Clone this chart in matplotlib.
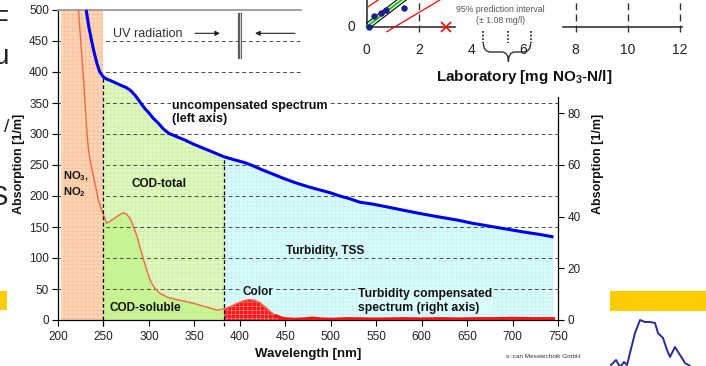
import numpy as np
import matplotlib
matplotlib.use('Agg')
import matplotlib.pyplot as plt
from matplotlib.path import Path
from matplotlib.patches import PathPatch, Rectangle

plt.rcParams['font.family'] = ['Liberation Sans', 'DejaVu Sans']
plt.rcParams['mathtext.fontset'] = 'custom'
plt.rcParams['mathtext.rm'] = 'Liberation Sans'
plt.rcParams['mathtext.bf'] = 'Liberation Sans:bold'
plt.rcParams['hatch.linewidth'] = 0.35

# ---------------- main chart data ----------------
blue_wl = [229, 231, 234, 237, 240, 243, 246, 250, 253, 258, 264, 270, 275, 280, 285, 290,
           295, 300, 305, 310, 316, 322, 330, 340, 350, 360, 370, 383, 395, 405, 414, 425,
           437, 447, 460, 475, 490, 500, 510, 520, 532, 546, 560, 580, 601, 620, 640, 656,
           680, 700, 712, 730, 745]
blue_abs = [525, 500, 472, 450, 430, 413, 400, 392, 389, 386, 382, 378, 375, 370, 362, 352,
            342, 334, 325, 318, 308, 301, 296, 290, 283, 277, 271, 263, 258, 254, 249, 242,
            235, 229, 222, 215, 209, 205, 200, 196, 190, 187, 183, 177, 171, 166, 161, 156,
            150, 145, 142, 138, 134]

red_wl = [221, 222.5, 225, 227.5, 229.7, 232, 233.5, 237, 240.7, 244.4, 248, 250, 253.5, 258,
          263, 268, 272, 276, 280, 283, 287, 290, 295, 301, 306, 312, 320, 330, 340, 349, 363,
          375, 383, 390, 397, 404, 410, 416, 422, 428, 434, 440, 446, 452, 460, 470, 480, 490,
          500, 520, 540, 560, 580, 600, 620, 640, 660, 680, 700, 720, 745]
red_abs = [530, 500, 450, 400, 350, 300, 274, 245, 220, 193, 177, 170, 156, 160,
           165, 170, 173, 170, 162, 150, 135, 118, 93, 65, 52, 43, 37, 33, 30, 27, 21,
           16, 18, 22, 27, 31, 33, 32, 28, 21, 13, 6.5, 3, 1.5, 1, 1.5, 3, 1.5,
           1, 2, 1.5, 1.5, 2, 1.5, 2, 1.5, 2, 2, 2.5, 2, 2]

x_ticks = list(range(200, 751, 50))
left_ticks = list(range(0, 501, 50))
right_ticks = [0, 20, 40, 60, 80]
grid_levels = list(range(50, 451, 50))

no3_range = (203, 250)
cod_split = 250
turb_split = 383
thick_red_from = 440

# ---------------- inset (calibration chart fragment) data ----------------
lab_ticks = [0, 2, 4, 6, 8, 10, 12]
lab_grid = [2, 8, 10, 12]
lab_dots_x = [0.1, 0.29, 0.54, 0.74, 1.43]
lab_dots_y = [0.0, 0.53, 0.70, 0.83, 0.92]
fit_x = [0, 1.335]
fit_y = [0, 1.335]
band_hi_x = [0, 1.155]
band_hi_y = [0.18, 1.335]
band_lo_x = [0.18, 1.515]
band_lo_y = [0, 1.335]
pred_hi_x = [0.06, 0.44]
pred_hi_y = [1.0, 1.335]
pred_lo_x = [0.77, 2.8]
pred_lo_y = [-0.25, 1.335]
outlier_x = [3.04]
outlier_y = [-0.03]
brace_marks = [4.47, 5.43, 6.28]

# ---------------- background slide fragments (pixel coords) ----------------
sketch_x = [611, 616, 620, 624, 627, 632, 635, 640, 645, 650, 655, 658, 663, 667, 670, 675, 680, 685, 690]
sketch_y = [365, 360, 367, 362, 365, 345, 333, 320, 322, 322, 323, 333, 338, 350, 357, 347, 355, 363, 366]

# ---------------- colours ----------------
c_orange, h_orange = '#FCD5B6', '#F6BC90'
c_green, h_green = '#E0F8C2', '#C6EE98'
c_green_dark = '#C8F392'
c_cyan, h_cyan = '#DAFBFB', '#BDF1F3'
c_red, h_red = '#F21A1A', '#FF8F8F'

fig = plt.figure(figsize=(7.06, 3.66), dpi=100)
fig.patch.set_facecolor('white')

ax = fig.add_axes([58 / 706, 46 / 366, 500 / 706, 310 / 366])
ax.set_xlim(200, 750)
ax.set_ylim(0, 500)

bw = np.array(blue_wl, float)
ba = np.array(blue_abs, float)
rw = np.array(red_wl, float)
ra = np.array(red_abs, float)

# regions
ax.fill_between(list(no3_range), [0, 0], [500, 500], facecolor=c_orange, edgecolor=h_orange,
                hatch='++++', linewidth=0, zorder=2)
m = (bw >= cod_split) & (bw <= turb_split)
ax.fill_between(bw[m], 0, ba[m], facecolor=c_green, edgecolor=h_green, hatch='++++',
                linewidth=0, zorder=1)
mr = (rw >= cod_split) & (rw <= turb_split)
ax.fill_between(rw[mr], 0, ra[mr], facecolor=c_green_dark, linewidth=0, zorder=1.1)
m2 = bw >= turb_split
ax.fill_between(bw[m2], 0, ba[m2], facecolor=c_cyan, edgecolor=h_cyan, hatch='++++',
                linewidth=0, zorder=1)
mr2 = rw >= turb_split
ax.fill_between(rw[mr2], 0, ra[mr2], facecolor=c_red, edgecolor=h_red, hatch='++++',
                linewidth=0, zorder=3)

# gridlines
ax.hlines(grid_levels, 200, 750, colors='#4a4a4a', linestyles=(0, (4, 3)), linewidth=0.7, zorder=1.5)

# curves
ax.plot(rw, ra, color='#F06848', lw=1.0, zorder=4)
mt = rw >= thick_red_from
ax.plot(rw[mt], ra[mt], color='#FF1010', lw=2.4, zorder=4)
ax.plot(bw, ba, color='#0000F0', lw=2.2, zorder=5, solid_capstyle='butt')

# region separators
for xs in (cod_split, turb_split):
    top = float(np.interp(xs, bw, ba))
    ax.plot([xs, xs], [-9, top], color='black', lw=0.9, ls=(0, (3, 2)), zorder=4.5, clip_on=False)

# axes styling
ax.set_xticks(x_ticks)
ax.set_yticks(left_ticks)
ax.tick_params(axis='both', direction='out', length=4, width=0.8, labelsize=8.5,
               labelcolor='#222222', pad=2.5)
ax.tick_params(axis='x', pad=4)
for s in ('left', 'bottom'):
    ax.spines[s].set_color('black')
    ax.spines[s].set_linewidth(0.9)
ax.spines['top'].set_color('#9a9a9a')
ax.spines['top'].set_linewidth(1.3)
ax.spines['right'].set_visible(False)

ax2 = ax.twinx()
ax2.set_ylim(0, 120)
ax2.set_yticks(right_ticks)
ax2.tick_params(axis='y', direction='out', length=4, width=0.8, labelsize=8.5,
                labelcolor='#222222', pad=3)
for s in ('left', 'top', 'bottom'):
    ax2.spines[s].set_visible(False)
ax2.spines['right'].set_linewidth(0.9)

# annotations
ax.text(260.5, 461, 'UV radiation', fontsize=9, color='#333333', ha='left', va='center', zorder=6)
arrow_kw = dict(arrowstyle='-|>', lw=0.8, color='#222222', mutation_scale=7, shrinkA=0, shrinkB=0)
ax.annotate('', xy=(378.2, 462.4), xytext=(350.7, 462.4), arrowprops=arrow_kw, zorder=6)
ax.annotate('', xy=(416.7, 462.4), xytext=(460.7, 462.4), arrowprops=arrow_kw, zorder=6)
ax.plot([400.2, 400.2], [420.5, 495.6], color='#555555', lw=3.0, zorder=6, solid_capstyle='butt')
ax.plot([400.2, 400.2], [420.5, 495.6], color='#d0d0d0', lw=0.9, zorder=6.1, solid_capstyle='butt')

ax.text(325.4, 334.7, 'uncompensated spectrum\n(left axis)', fontsize=9, fontweight='bold',
        ha='left', va='center', zorder=6, color='#111111',
        bbox=dict(facecolor='white', edgecolor='none', pad=1))
ax.text(205.5, 218.5, r'NO$_\mathbf{3}$,' + '\n' + r'NO$_\mathbf{2}$', fontsize=8, fontweight='bold',
        ha='left', va='center', zorder=6, color='#111111')
ax.text(311.1, 219.4, 'COD-total', fontsize=8.5, fontweight='bold', ha='center', va='center',
        zorder=6, color='#111111')
ax.text(295.7, 18.9, 'COD-soluble', fontsize=8.5, fontweight='bold', ha='center', va='center',
        zorder=6, color='#111111')
ax.text(420, 44.7, 'Color', fontsize=8.5, fontweight='bold', ha='center', va='center', zorder=6,
        color='#111111', bbox=dict(facecolor=c_cyan, edgecolor='none', pad=0.5))
ax.text(493.7, 111.8, 'Turbidity, TSS', fontsize=8.5, fontweight='bold', ha='center', va='center',
        zorder=6, color='#111111')
ax.text(530.3, 31.1, 'Turbidity compensated\nspectrum (right axis)', fontsize=8.8, fontweight='bold',
        ha='left', va='center', zorder=6, color='#111111',
        bbox=dict(facecolor=c_cyan, edgecolor='none', pad=0.5))

fig.text(19 / 706, 1 - 164 / 366, 'Absorption [1/m]', rotation=90, ha='center', va='center',
         fontsize=9, fontweight='bold', color='#111111')
fig.text(598 / 706, 1 - 164 / 366, 'Absorption [1/m]', rotation=90, ha='center', va='center',
         fontsize=9, fontweight='bold', color='#111111')
fig.text(308 / 706, 1 - 354 / 366, 'Wavelength [nm]', ha='center', va='center',
         fontsize=9.5, fontweight='bold', color='#111111')
fig.text(581 / 706, 1 - 357 / 366, 's::can Messtechnik GmbH', ha='right', va='center',
         fontsize=4.6, color='#333333')

# ---------------- inset fragment ----------------
ins = fig.add_axes([302 / 706, 1 - 97 / 366, 404 / 706, 97 / 366], zorder=10)
ins.set_facecolor('white')
ins.set_xlim(-2.479, 13.0)
ins.set_ylim(-3.515, 1.335)
ins.set_xticks([])
ins.set_yticks([])
for s in ins.spines.values():
    s.set_visible(False)

ins.vlines(lab_grid, -0.25, 1.335, colors='#333333', linestyles=(0, (5, 3)), lw=1.0)
ins.plot([0, 3.38], [0, 0], color='#333333', lw=1.2)
ins.plot([7.52, 12.08], [0, 0], color='#333333', lw=1.2)
ins.plot([0, 0], [0, 1.335], color='#333333', lw=1.2)
ins.vlines(brace_marks, -0.2, -0.8, colors='#333333', linestyles=(0, (1, 1)), lw=1.3)

verts = [(brace_marks[0], -0.83), (brace_marks[0], -1.265), (brace_marks[0] + 0.3, -1.265),
         (brace_marks[1] - 0.25, -1.265),
         (brace_marks[1], -1.265), (brace_marks[1], -1.75),
         (brace_marks[1], -1.265), (brace_marks[1] + 0.25, -1.265),
         (brace_marks[2] - 0.3, -1.265),
         (brace_marks[2], -1.265), (brace_marks[2], -0.83)]
codes = [Path.MOVETO, Path.CURVE3, Path.CURVE3, Path.LINETO, Path.CURVE3, Path.CURVE3,
         Path.CURVE3, Path.CURVE3, Path.LINETO, Path.CURVE3, Path.CURVE3]
ins.add_patch(PathPatch(Path(verts, codes), fill=False, lw=1.0, edgecolor='#333333'))

ins.plot(band_hi_x, band_hi_y, color='black', lw=0.8)
ins.plot(band_lo_x, band_lo_y, color='black', lw=0.8)
ins.plot(fit_x, fit_y, color='#22CC22', lw=1.6)
ins.plot(pred_hi_x, pred_hi_y, color='red', lw=0.9)
ins.plot(pred_lo_x, pred_lo_y, color='red', lw=0.9)
ins.scatter(lab_dots_x, lab_dots_y, s=13, color='#1C1C8C', zorder=5)
ins.plot(outlier_x, outlier_y, marker='x', ms=7, mew=1.2, color='red', ls='none')

for t in lab_ticks:
    ins.text(t, -1.165, str(t), ha='center', va='center', fontsize=10, color='#222222')
ins.text(-0.575, 0, '0', ha='center', va='center', fontsize=10, color='#222222')
ins.text(6.03, -2.53, r'Laboratory [mg NO$_\mathbf{3}$-N/l]', ha='center', va='center',
         fontsize=11, fontweight='bold', color='#111111')
ins.text(5.11, 0.835, '95% prediction interval', ha='center', va='center', fontsize=6.3, color='#555555')
ins.text(5.11, 0.3, '(\u00b1 1.08 mg/l)', ha='center', va='center', fontsize=6.3, color='#555555')

# ---------------- slide fragments ----------------
ov = fig.add_axes([0, 0, 1, 1], zorder=20)
ov.set_xlim(0, 706)
ov.set_ylim(366, 0)
ov.set_axis_off()
ov.patch.set_visible(False)
ov.add_patch(Rectangle((0, 291), 7, 19, facecolor='#FFCC00', edgecolor='none'))
ov.add_patch(Rectangle((610, 291), 96, 20, facecolor='#FFCC00', edgecolor='none'))
ov.plot(sketch_x, sketch_y, color='#2A2A9A', lw=1.4)
ov.text(9, 22, 'F', ha='right', va='center', fontsize=20, color='#222222')
ov.text(9, 57, 'u', ha='right', va='center', fontsize=20, color='#222222')
ov.text(9, 128, '/', ha='right', va='center', fontsize=14, color='#222222')
ov.text(8, 198, 'S', ha='right', va='center', fontsize=20, color='#222222')

fig.savefig('out.png', dpi=100)
